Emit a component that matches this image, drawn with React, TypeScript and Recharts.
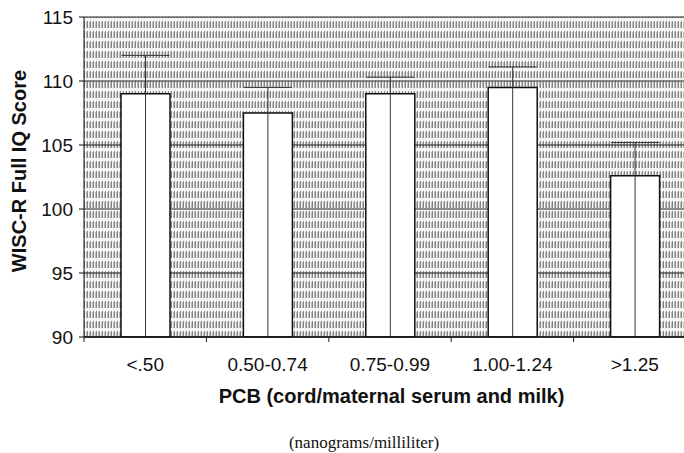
import React from 'react';
import { BarChart, Bar, XAxis, YAxis, CartesianGrid, ErrorBar } from 'recharts';

const categories = ['<.50', '0.50-0.74', '0.75-0.99', '1.00-1.24', '>1.25'];
const meanIQ = [109.0, 107.5, 109.0, 109.5, 102.6];
const upperError = [112.0, 109.5, 110.3, 111.1, 105.2];
const yTicks = [90, 95, 100, 105, 110, 115];
const yMin = 90;
const yMax = 115;

const data = categories.map((c, i) => ({
  category: c,
  iq: meanIQ[i],
  err: [meanIQ[i] - yMin, upperError[i] - meanIQ[i]],
}));

const SANS = '"Liberation Sans", Arial, Helvetica, sans-serif';
const SERIF = '"Liberation Serif", "Times New Roman", Times, serif';

const X_TICK_SIZE = 5;
const X_TICK_MARGIN = 16;

const XTick = (props: any) => {
  const { x, y, payload } = props;
  const off = payload && typeof payload.offset === 'number' ? payload.offset : 61.2;
  const axisY = y - X_TICK_SIZE - X_TICK_MARGIN;
  return (
    <g>
      <line x1={x - off} y1={axisY} x2={x - off} y2={axisY + X_TICK_SIZE} stroke="#222" strokeWidth={1} />
      <text x={x} y={y} dy="0.71em" textAnchor="middle" fontFamily={SANS} fontSize={19} fill="#111">
        {payload.value}
      </text>
    </g>
  );
};

const XTitle = () => (
  <g>
    <text x={391.5} y={403} textAnchor="middle" fontFamily={SANS} fontWeight="bold" fontSize={20} fill="#111">
      PCB (cord/maternal serum and milk)
    </text>
    <text x={364} y={448} textAnchor="middle" fontFamily={SERIF} fontSize={17} fill="#111">
      (nanograms/milliliter)
    </text>
  </g>
);

const YTitle = () => (
  <text
    x={19}
    y={171}
    transform="rotate(-90, 19, 171)"
    textAnchor="middle"
    dominantBaseline="central"
    fontFamily={SANS}
    fontWeight="bold"
    fontSize={20}
    fill="#111"
  >
    WISC-R Full IQ Score
  </text>
);

export default function App() {
  return (
    <div style={{ position: 'absolute', left: 0, top: 0, width: 684, height: 453, overflow: 'hidden', background: '#fff' }}>
      <BarChart
        width={700}
        height={453}
        data={data}
        margin={{ top: 17, right: 4, bottom: 0, left: 0 }}
        barSize={49}
      >
        <defs>
          <pattern id="hatch" width="3" height="10" patternUnits="userSpaceOnUse">
            <rect x="0" y="0" width="3" height="10" fill="#f4f4f4" />
            <rect x="0" y="1" width="1" height="7" fill="#858585" />
            <rect x="2" y="2" width="1" height="6" fill="#bdbdbd" />
          </pattern>
        </defs>
        <CartesianGrid
          vertical={false}
          stroke="#222"
          strokeWidth={1}
          fill="url(#hatch)"
          fillOpacity={1}
        />
        <XAxis
          dataKey="category"
          height={116}
          axisLine={{ stroke: '#111', strokeWidth: 1.5 }}
          tickLine={false}
          tickSize={X_TICK_SIZE}
          tickMargin={X_TICK_MARGIN}
          tick={<XTick />}
          interval={0}
          label={{ content: () => <XTitle /> }}
        />
        <YAxis
          width={84}
          domain={[yMin, yMax]}
          ticks={yTicks}
          allowDataOverflow
          axisLine={{ stroke: '#111', strokeWidth: 1 }}
          tickLine={{ stroke: '#111' }}
          tickSize={5}
          tickMargin={6}
          tick={{ fontFamily: SANS, fontSize: 19, fill: '#111' }}
          label={{ content: () => <YTitle /> }}
        />
        <Bar dataKey="iq" fill="#ffffff" stroke="#111" strokeWidth={1.5} isAnimationActive={false}>
          <ErrorBar dataKey="err" direction="y" width={24} stroke="#333" strokeWidth={1} isAnimationActive={false} />
        </Bar>
      </BarChart>
    </div>
  );
}
